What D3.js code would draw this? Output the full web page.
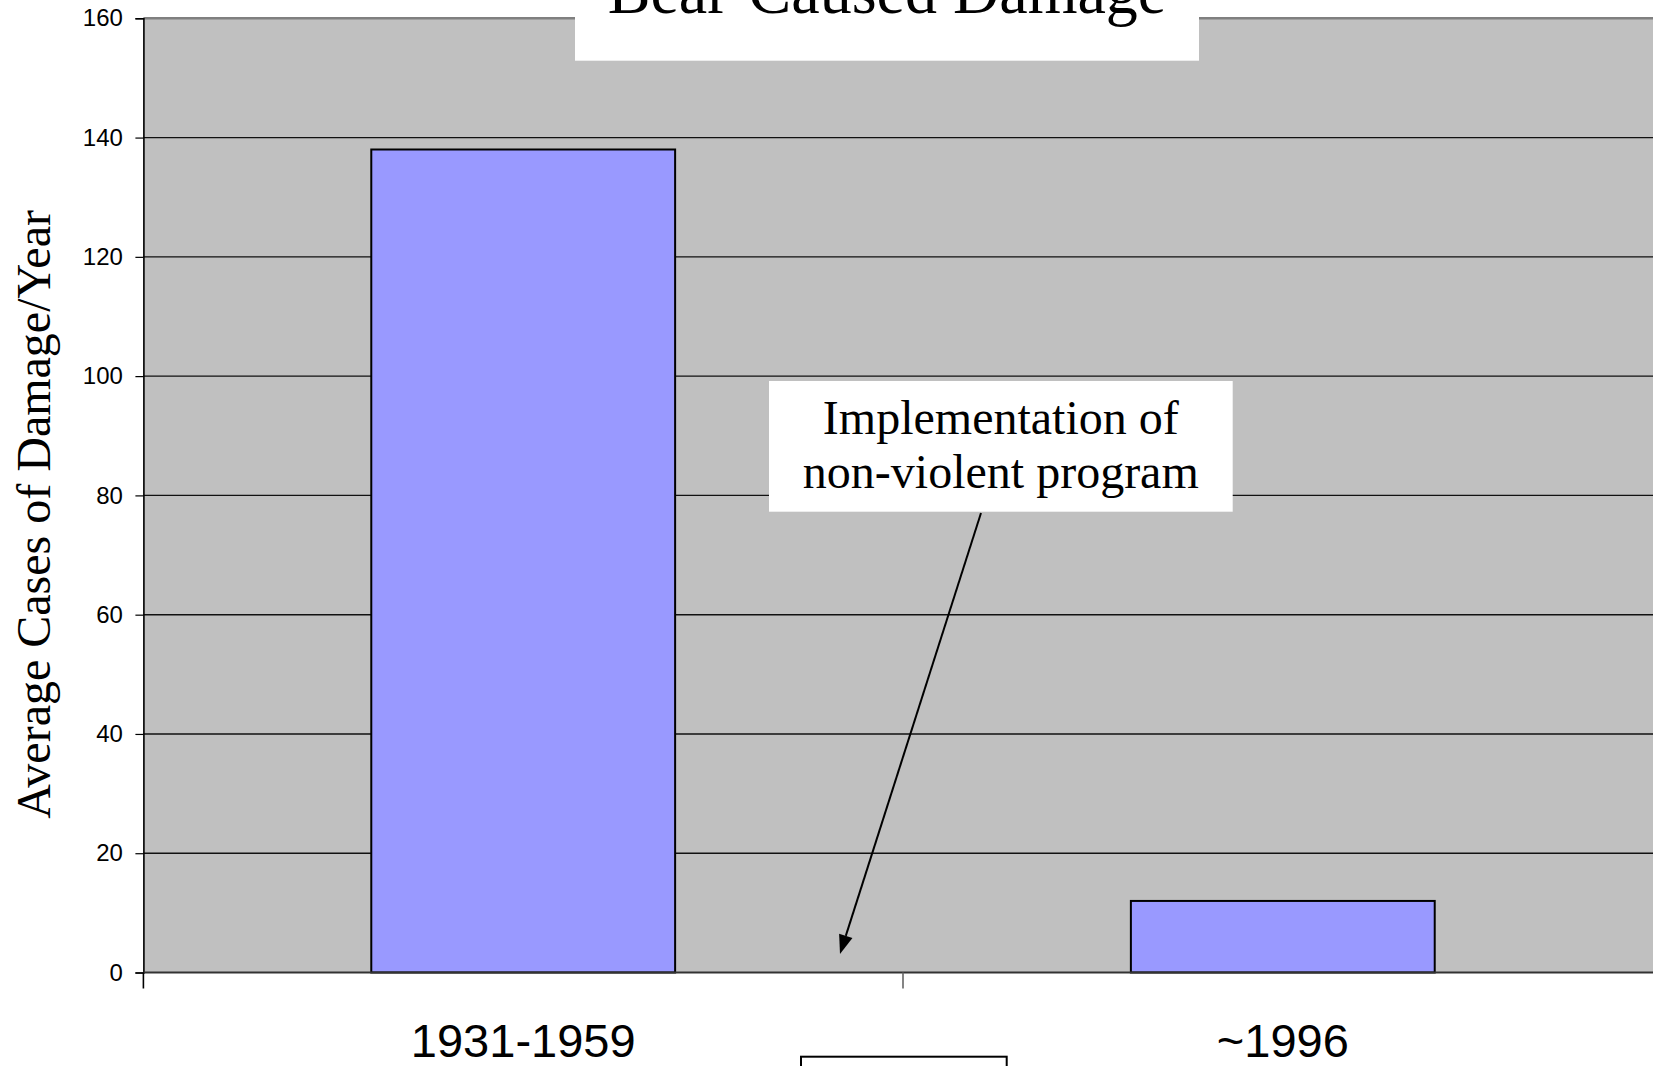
<!DOCTYPE html>
<html>
<head>
<meta charset="utf-8">
<script src="https://cdn.jsdelivr.net/npm/d3@7"></script>
<style>
  body { margin: 0; background: #fff; overflow: hidden; }
  svg { display: block; }
  .tick text { font-family: Arial, "Liberation Sans", sans-serif; }
</style>
</head>
<body>
<div id="main"></div>
<script>
// chart data
const periods = ["1931-1959", "~1996"];
const avgCases = [138, 12];
const yTicks = [0, 20, 40, 60, 80, 100, 120, 140, 160];
const titleText = "Bear-Caused Damage";
const yTitle = "Average Cases of Damage/Year";
const noteLines = ["Implementation of", "non-violent program"];

function barChart() {
  const w = 1653;
  const h = 1066;

  const plot = { left: 143.4, right: 1662.6, top: 18.3, bottom: 972.5 };

  const svg = d3.select("#main").append("svg")
                .attr("width", w)
                .attr("height", h);

  const xScale = d3.scaleBand()
                   .domain(periods)
                   .range([plot.left, plot.right])
                   .paddingInner(0.6)
                   .paddingOuter(0.3);

  const yScale = d3.scaleLinear()
                   .domain([0, 160])
                   .range([plot.bottom, plot.top]);

  // plot area
  svg.append("rect")
     .attr("x", plot.left)
     .attr("y", plot.top)
     .attr("width", plot.right - plot.left)
     .attr("height", plot.bottom - plot.top)
     .attr("fill", "#c0c0c0");

  // gridlines
  svg.append("g")
     .selectAll("line")
     .data(yTicks.filter(d => d > 0 && d < 160))
     .enter()
     .append("line")
     .attr("x1", plot.left)
     .attr("x2", plot.right)
     .attr("y1", d => yScale(d))
     .attr("y2", d => yScale(d))
     .attr("stroke", "#111")
     .attr("stroke-width", 1.4);

  // top border
  svg.append("line")
     .attr("x1", plot.left)
     .attr("x2", plot.right)
     .attr("y1", yScale(160))
     .attr("y2", yScale(160))
     .attr("stroke", "#808080")
     .attr("stroke-width", 2.5);

  // bars
  svg.selectAll(".bar")
     .data(periods)
     .enter()
     .append("rect")
     .attr("class", "bar")
     .attr("x", d => xScale(d))
     .attr("y", (d, i) => yScale(avgCases[i]))
     .attr("width", xScale.bandwidth())
     .attr("height", (d, i) => yScale(0) - yScale(avgCases[i]))
     .attr("fill", "#9999ff")
     .attr("stroke", "#000")
     .attr("stroke-width", 2);

  // y axis
  const yAxis = d3.axisLeft(yScale)
                  .tickValues(yTicks)
                  .tickSize(8)
                  .tickPadding(12.5)
                  .tickFormat(d3.format("d"));

  const gy = svg.append("g")
                .attr("id", "y-axis")
                .attr("transform", "translate(" + plot.left + ",0)")
                .call(yAxis);
  gy.select(".domain").attr("stroke", "#000").attr("stroke-width", 1.6);
  gy.selectAll(".tick line").attr("stroke", "#000").attr("stroke-width", 1.2);
  gy.selectAll(".tick text")
    .attr("font-size", 24)
    .attr("fill", "#000");

  // x axis line + category dividers
  svg.append("line")
     .attr("x1", plot.left)
     .attr("x2", plot.right)
     .attr("y1", yScale(0))
     .attr("y2", yScale(0))
     .attr("stroke", "#333")
     .attr("stroke-width", 2);

  const step = xScale.step();
  const dividers = [xScale(periods[0]) + xScale.bandwidth() / 2 - step / 2]
    .concat(periods.map(d => xScale(d) + xScale.bandwidth() / 2 + step / 2));

  svg.append("g")
     .selectAll("line")
     .data(dividers)
     .enter()
     .append("line")
     .attr("x1", d => d)
     .attr("x2", d => d)
     .attr("y1", yScale(0))
     .attr("y2", yScale(0) + 16)
     .attr("stroke", (d, i) => i === 0 ? "#000" : "#666")
     .attr("stroke-width", 1.6);

  const xAxis = d3.axisBottom(xScale).tickSize(0);
  const gx = svg.append("g")
                .attr("id", "x-axis")
                .attr("transform", "translate(0," + yScale(0) + ")")
                .call(xAxis);
  gx.select(".domain").remove();
  gx.selectAll(".tick text")
    .attr("y", 84.5)
    .attr("dy", 0)
    .attr("font-size", 47)
    .attr("fill", "#000");

  // y title
  svg.append("text")
     .attr("transform", "translate(49.5," + ((plot.top + plot.bottom) / 2 + 19) + ") rotate(-90)")
     .attr("text-anchor", "middle")
     .attr("font-family", "'Times New Roman', 'Liberation Serif', serif")
     .attr("font-size", 48)
     .text(yTitle);

  // title box
  svg.append("rect")
     .attr("x", 575)
     .attr("y", -10)
     .attr("width", 624)
     .attr("height", 70.7)
     .attr("fill", "#fff");

  svg.append("text")
     .attr("x", 887)
     .attr("y", 13)
     .attr("text-anchor", "middle")
     .attr("font-family", "'Times New Roman', 'Liberation Serif', serif")
     .attr("font-size", 64)
     .text(titleText);

  // annotation
  const note = svg.append("g");
  note.append("rect")
      .attr("x", 769)
      .attr("y", 381)
      .attr("width", 463.7)
      .attr("height", 130.7)
      .attr("fill", "#fff");

  note.selectAll("text")
      .data(noteLines)
      .enter()
      .append("text")
      .attr("x", 1000.8)
      .attr("y", (d, i) => 434 + i * 54.3)
      .attr("text-anchor", "middle")
      .attr("font-family", "'Times New Roman', 'Liberation Serif', serif")
      .attr("font-size", 48)
      .text(d => d);

  // arrow
  const x0 = 981, y0 = 513;
  const x1 = dividers[1] - 63, y1 = yScale(3.1);
  const ang = Math.atan2(y1 - y0, x1 - x0);
  const headLen = 19, headW = 7;
  const bx = x1 - headLen * Math.cos(ang);
  const by = y1 - headLen * Math.sin(ang);

  svg.append("line")
     .attr("x1", x0)
     .attr("y1", y0)
     .attr("x2", bx)
     .attr("y2", by)
     .attr("stroke", "#000")
     .attr("stroke-width", 2);

  svg.append("path")
     .attr("d", "M" + x1 + "," + y1 +
                "L" + (bx + headW * Math.sin(ang)) + "," + (by - headW * Math.cos(ang)) +
                "L" + (bx - headW * Math.sin(ang)) + "," + (by + headW * Math.cos(ang)) + "Z")
     .attr("fill", "#000");

  // partial box at the bottom edge
  svg.append("rect")
     .attr("x", 801)
     .attr("y", 1056.7)
     .attr("width", 205.7)
     .attr("height", 40)
     .attr("fill", "#fff")
     .attr("stroke", "#000")
     .attr("stroke-width", 2);
}

barChart();
</script>
</body>
</html>
